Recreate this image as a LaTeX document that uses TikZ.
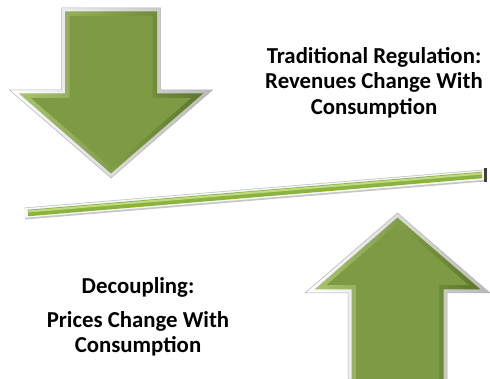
\documentclass[tikz,border=0pt]{standalone}
\usepackage{fontspec}
\setmainfont{Carlito}
\usetikzlibrary{positioning}

\definecolor{facegreen}{HTML}{7E9A44}
\definecolor{bevellight}{HTML}{A9C56A}
\definecolor{beveldark}{HTML}{5C772B}
\definecolor{beamgreen}{HTML}{8CB33F}
\definecolor{beamlight}{HTML}{BFDB7E}

\begin{document}
\begin{tikzpicture}[
    x=1pt, y=-1pt,
    rim/.style={draw=gray!60, line width=0.5pt, left color=white, right color=gray!55},
    bevel/.style={left color=bevellight, right color=beveldark},
    face/.style={fill=facegreen},
    banner/.style={font=\fontsize{22.8}{25.5}\selectfont\bfseries, align=center, inner sep=0pt, text=black}
]
\useasboundingbox (0,0) rectangle (490,379);

% Downward arrow (top left)
\path[rim] (61.5,8) -- (160.5,8) -- (160.5,90) -- (212.5,90) -- (111,178) -- (9.5,90) -- (61.5,90) -- cycle;
\path[bevel] (65,11.5) -- (157,11.5) -- (157,93.5) -- (203.1,93.5) -- (111,173.4) -- (18.9,93.5) -- (65,93.5) -- cycle;
\path[face] (69.5,16) -- (152.5,16) -- (152.5,98) -- (191.1,98) -- (111,167.4) -- (30.9,98) -- (69.5,98) -- cycle;

% Upward arrow (bottom right)
\path[rim] (348,379) -- (348,293) -- (305,293) -- (397.5,213) -- (490,293) -- (447,293) -- (447,379) -- cycle;
\path[bevel] (351.5,379) -- (351.5,289.5) -- (314.4,289.5) -- (397.5,217.6) -- (480.6,289.5) -- (443.5,289.5) -- (443.5,379) -- cycle;
\path[face] (356,379) -- (356,285) -- (326.5,285) -- (397.5,223.6) -- (468.5,285) -- (439,285) -- (439,379) -- cycle;

% Tilted beam
\coordinate (beamL) at (25,213);
\coordinate (beamR) at (485,175);
\draw[gray!45, line width=5pt] ([yshift=-4pt]beamL) -- ([yshift=-4pt]beamR);
\draw[gray!45, line width=11pt] (beamL) -- (beamR);
\draw[gray!6, line width=9.5pt] (beamL) -- (beamR);
\draw[beamgreen, line width=6.5pt] ([xshift=3pt]beamL) -- ([xshift=-3pt]beamR);
\draw[beamlight, line width=2pt] ([xshift=3pt,yshift=1.5pt]beamL) -- ([xshift=-3pt,yshift=1.5pt]beamR);
\draw[black!75, line width=3pt] ([yshift=-7pt]beamR) -- ([yshift=7pt]beamR);

% Captions
\node[banner, anchor=north] (tradtext) at (374,47) {Traditional Regulation:\\Revenues Change With\\Consumption};
\node[banner, anchor=north] (decotext) at (138,277) {Decoupling:\\[8.5pt]Prices Change With\\Consumption};

\end{tikzpicture}
\end{document}
